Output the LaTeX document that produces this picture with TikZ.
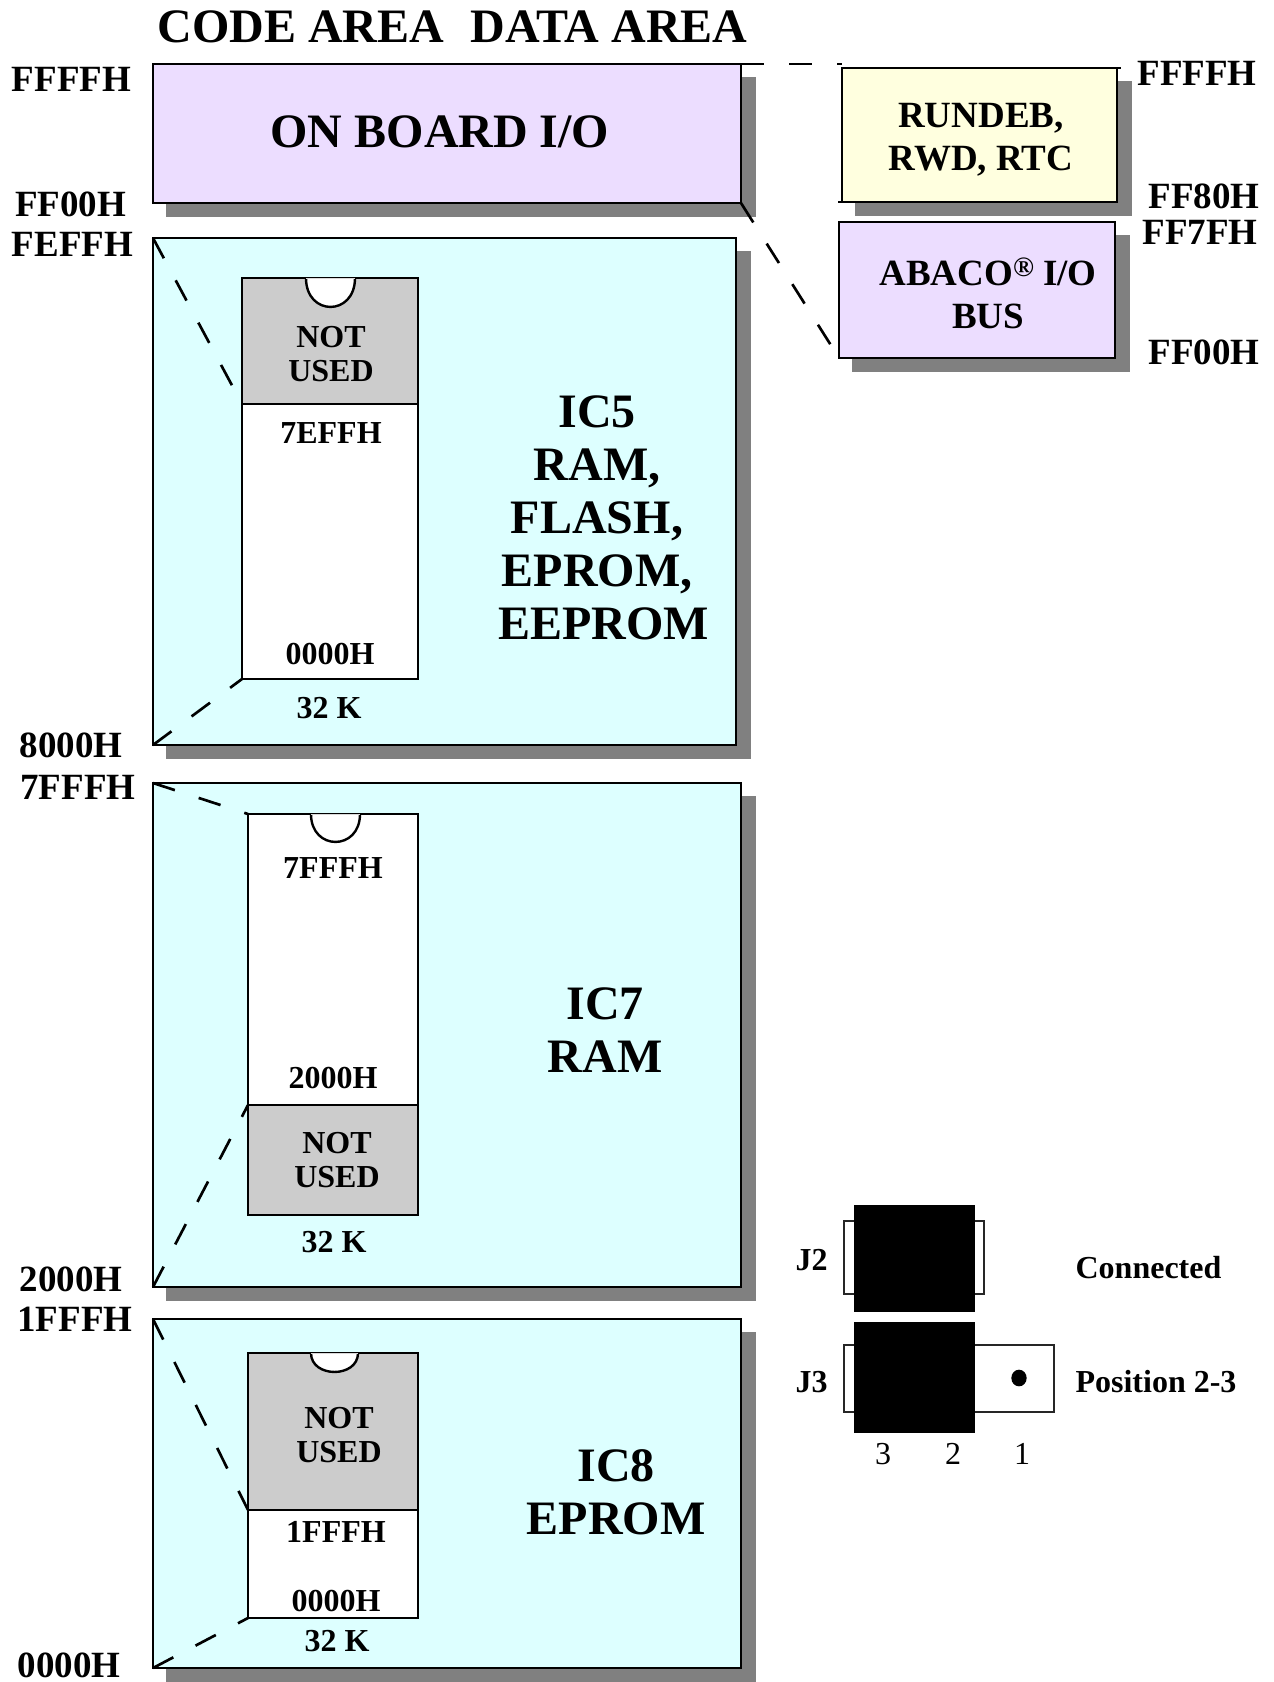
\documentclass[tikz,border=0pt]{standalone}
\usepackage{fontspec}
\usetikzlibrary{shapes.geometric}
\setmainfont{Liberation Serif}
\definecolor{purplec}{HTML}{ECDDFF}
\definecolor{cyanc}{HTML}{DDFFFF}
\definecolor{yellowc}{HTML}{FFFFDF}
\definecolor{grayc}{HTML}{CCCCCC}
\definecolor{shadowc}{HTML}{808080}
\tikzset{
  bx/.style={draw=black,line width=2.2pt,inner sep=0pt,outer sep=0pt},
  tl/.style={inner sep=0pt,outer sep=0pt,yshift=-0.75pt,align=center,font=\bfseries\fontsize{36}{39.75}\selectfont},
  th/.style={inner sep=0pt,outer sep=0pt,align=center,font=\bfseries\fontsize{36}{40}\selectfont},
  tm/.style={inner sep=0pt,outer sep=0pt,yshift=-0.75pt,align=center,font=\bfseries\fontsize{27.75}{32.25}\selectfont},
  ts/.style={inner sep=0pt,outer sep=0pt,yshift=-0.75pt,align=center,font=\bfseries\fontsize{24}{25.5}\selectfont},
  tr/.style={inner sep=0pt,outer sep=0pt,yshift=-0.75pt,font=\fontsize{24}{26}\selectfont},
  link/.style={draw=black,line width=2pt,dash pattern=on 17.25pt off 18.75pt},
  jout/.style={draw=black!85,line width=1.6pt,fill=white,inner sep=0pt,outer sep=0pt},
  jcap/.style={fill=black,inner sep=0pt,outer sep=0pt},
  notch/.style={draw=black,line width=1.8pt}
}
\newcommand{\Bx}[6]{%
  \pgfmathsetmacro\bxcx{(#2+#4)/2}%
  \pgfmathsetmacro\bxcy{(#3+#5)/2}%
  \pgfmathsetmacro\bxw{(#4-#2)*0.75}%
  \pgfmathsetmacro\bxh{(#5-#3)*0.75}%
  \node[#6,minimum width=\bxw pt,minimum height=\bxh pt] (#1) at (\bxcx,\bxcy) {};}
\newcommand{\Shd}[4]{\fill[shadowc] ({#1+13},{#2+13}) rectangle ({#3+15},{#4+14});}
\newcommand{\Notch}[3]{% left x, right x, top y ; depth follows
  \fill[white] (#1,#3) .. controls (#1,{#3+1.33*\notchd}) and (#2,{#3+1.33*\notchd}) .. (#2,#3) -- cycle;
  \draw[notch] (#1,#3) .. controls (#1,{#3+1.33*\notchd}) and (#2,{#3+1.33*\notchd}) .. (#2,#3);
  \draw[black!15,line width=.5pt] (#1,#3) -- (#2,#3);
}
\begin{document}
\begin{tikzpicture}[x=0.75pt,y=-0.75pt]
\useasboundingbox (0,0) rectangle (1274,1682);
% shadows and main boxes
\Shd{153}{64}{741}{203}
\Bx{board}{153}{64}{741}{203}{bx,fill=purplec}
\Shd{153}{238}{736}{745}
\Bx{icfive}{153}{238}{736}{745}{bx,fill=cyanc}
\Shd{153}{783}{741}{1287}
\Bx{icseven}{153}{783}{741}{1287}{bx,fill=cyanc}
\Shd{153}{1319}{741}{1668}
\Bx{iceight}{153}{1319}{741}{1668}{bx,fill=cyanc}
\Shd{842}{68}{1117}{202}
\Bx{rundeb}{842}{68}{1117}{202}{bx,fill=yellowc}
\Shd{839}{222}{1115}{358}
\Bx{abaco}{839}{222}{1115}{358}{bx,fill=purplec}
% chips
\Bx{cfivetop}{242}{278}{418}{404}{bx,fill=grayc}
\Bx{cfivebot}{242}{404}{418}{679}{bx,fill=white}
\Bx{csevtop}{248}{814}{418}{1105}{bx,fill=white}
\Bx{csevbot}{248}{1105}{418}{1215}{bx,fill=grayc}
\Bx{ceigtop}{248}{1353}{418}{1510}{bx,fill=grayc}
\Bx{ceigbot}{248}{1510}{418}{1618}{bx,fill=white}
\def\notchd{29}
\Notch{306}{355}{278}
\def\notchd{28}
\Notch{311}{360}{814}
\def\notchd{19}
\Notch{311}{358}{1353}
% dashed connectors
\coordinate (rundebtop) at (842,64);
\draw[link] (board.north east) -- (rundebtop);
\draw[link] (board.south east) -- (abaco.south west);
\draw[link] (icfive.north west) -- (cfivetop.south west);
\draw[link] (icfive.south west) -- (cfivebot.south west);
\draw[link] (icseven.north west) -- (csevtop.north west);
\draw[link] (icseven.south west) -- (csevbot.north west);
\draw[link] (iceight.north west) -- (ceigtop.south west);
\draw[link] (iceight.south west) -- (ceigbot.south west);
% extended edges of the yellow box
\draw[line width=2.2pt] (rundeb.north east) -- ++(4,0);
\draw[line width=2.2pt] (rundeb.south west) -- ++(-4,0);
% jumpers
\Bx{jtwoout}{844}{1221}{984}{1294}{jout}
\Bx{jtwocap}{854}{1205}{975}{1312}{jcap}
\Bx{jthrout}{844}{1345}{1054}{1412}{jout}
\Bx{jthrcap}{854}{1322}{975}{1433}{jcap}
\node[fill=black,ellipse,minimum width=11.5pt,minimum height=12.5pt,inner sep=0pt] (pinone) at (1019,1378) {};
% titles
\node[th] (title) at (452.5,27) {CODE AREA\hspace{.3em} DATA AREA};
\node[tl] (tboard) at (440,131) {ON BOARD I/O};
\node[tm] (trundeb) at (981,139) {RUNDEB,\\RWD, RTC};
\node[tm] (tabaco) at (988,292) {ABACO\raisebox{.24em}{\fontsize{21}{21}\selectfont ®} I/O\\BUS};
\node[tl] (tfive) at (597,517) {IC5\\RAM,\\FLASH,\\EPROM,\\\hspace*{9.6pt}EEPROM};
\node[tl] (tseven) at (605,1029) {IC7\\RAM};
\node[tl] (teight) at (616,1491) {IC8\\EPROM};
% chip labels
\node[ts] (nuf) at (331,353) {NOT\\USED};
\node[ts] (afh) at (331,432) {7EFFH};
\node[ts] (alo) at (330,653) {0000H};
\node[ts] (ask) at (329,707) {32 K};
\node[ts] (bhi) at (333,867) {7FFFH};
\node[ts] (blo) at (333,1077) {2000H};
\node[ts] (nus) at (337,1159) {NOT\\USED};
\node[ts] (bsk) at (334,1241) {32 K};
\node[ts] (nue) at (339,1434) {NOT\\USED};
\node[ts] (chi) at (336,1531) {1FFFH};
\node[ts] (clo) at (336,1600) {0000H};
\node[ts] (csk) at (337,1640) {32 K};
% left addresses
\node[tm] (la) at (71.5,78) {FFFFH};
\node[tm] (lb) at (70.5,203) {FF00H};
\node[tm] (lc) at (72.5,243) {FEFFH};
\node[tm] (ld) at (71,744) {8000H};
\node[tm] (le) at (78,786) {7FFFH};
\node[tm] (lf) at (71,1278) {2000H};
\node[tm] (lg) at (75,1318) {1FFFH};
\node[tm] (lh) at (69,1664) {0000H};
% right addresses
\node[tm] (ra) at (1197,72) {FFFFH};
\node[tm] (rb) at (1204,195) {FF80H};
\node[tm] (rc) at (1200,231) {FF7FH};
\node[tm] (rd) at (1204,351) {FF00H};
% jumper labels
\node[ts] (jtwo) at (811.5,1259) {J2};
\node[ts] (jthr) at (811.5,1381) {J3};
\node[ts] (conn) at (1148.5,1267) {Connected};
\node[ts] (posn) at (1156,1381) {Position 2-3};
\node[tr] (pthree) at (883,1453) {3};
\node[tr] (ptwo) at (953,1453) {2};
\node[tr] (pon) at (1022,1453) {1};
\end{tikzpicture}
\end{document}
